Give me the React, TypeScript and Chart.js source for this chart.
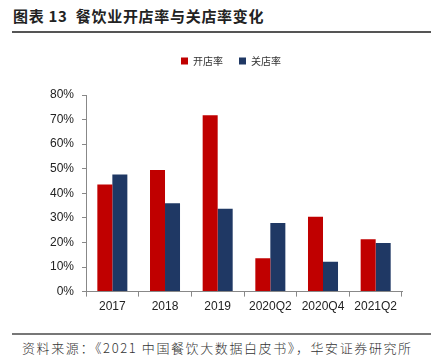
import React, { useEffect, useRef } from "react";
import { Chart, registerables } from "chart.js";

Chart.register(...registerables);

const categories = ["2017", "2018", "2019", "2020Q2", "2020Q4", "2021Q2"];
const openRate = [43.6, 49.5, 71.8, 13.6, 30.5, 21.3];
const closeRate = [47.6, 36.0, 33.7, 27.9, 12.1, 19.8];
const seriesNames = ["开店率", "关店率"];
const yTicks = [0, 10, 20, 30, 40, 50, 60, 70, 80];

const legendExtra = {
  id: "legendExtra",
  beforeInit(chart: any) {
    const orig = chart.legend.fit;
    chart.legend.fit = function () {
      orig.bind(chart.legend)();
      this.height += 19;
    };
  },
  afterLayout(chart: any) {
    if (chart.legend) {
      chart.legend.left += 9;
      chart.legend.right += 9;
    }
  },
};

export default function App() {
  const ref = useRef<HTMLCanvasElement | null>(null);

  useEffect(() => {
    if (!ref.current) return;
    const chart = new Chart(ref.current, {
      type: "bar",
      data: {
        labels: categories,
        datasets: [
          {
            label: seriesNames[0],
            data: openRate,
            backgroundColor: "#C00000",
            categoryPercentage: 0.57,
            barPercentage: 1,
          },
          {
            label: seriesNames[1],
            data: closeRate,
            backgroundColor: "#1F3864",
            categoryPercentage: 0.57,
            barPercentage: 1,
          },
        ],
      },
      plugins: [legendExtra],
      options: {
        responsive: false,
        animation: false,
        layout: { padding: { left: 42, right: 29, top: 0, bottom: 13 } },
        plugins: {
          legend: {
            position: "top",
            labels: {
              boxWidth: 7,
              boxHeight: 7,
              padding: 16,
              color: "#333",
              font: { family: "'Noto Sans CJK SC', sans-serif", size: 10 },
            },
          },
          tooltip: { enabled: false },
        },
        scales: {
          x: {
            grid: {
              offset: true,
              drawOnChartArea: false,
              drawTicks: true,
              tickLength: 5,
              color: "#888",
            },
            border: { color: "#888", width: 1 },
            ticks: {
              color: "#222",
              font: { family: "'Liberation Sans', Arial, sans-serif", size: 12 },
              maxRotation: 0,
              padding: 3,
            },
          },
          y: {
            min: 0,
            max: 80,
            afterBuildTicks: (axis: any) => {
              axis.ticks = yTicks.map((v) => ({ value: v }));
            },
            grid: {
              drawOnChartArea: false,
              drawTicks: true,
              tickLength: 4,
              color: "#888",
            },
            border: { color: "#888", width: 1 },
            ticks: {
              color: "#222",
              font: { family: "'Liberation Sans', Arial, sans-serif", size: 12 },
              padding: 8,
              callback: (v: any) => v + "%",
            },
          },
        },
      },
    });
    return () => chart.destroy();
  }, []);

  return (
    <div
      style={{
        position: "fixed",
        left: 0,
        top: 0,
        width: 431,
        height: 364,
        background: "#fff",
        overflow: "hidden",
      }}
    >
      <div
        style={{
          position: "absolute",
          left: 13,
          top: 5,
          fontFamily: "'Noto Sans CJK SC', sans-serif",
          fontWeight: 700,
          fontSize: 15,
          color: "#222",
          whiteSpace: "nowrap",
          letterSpacing: 0.7,
        }}
      >
        图表 13&nbsp; 餐饮业开店率与关店率变化
      </div>
      <div
        style={{
          position: "absolute",
          left: 12,
          top: 31,
          width: 419,
          height: 1.5,
          background: "#555",
        }}
      />
      <canvas
        ref={ref}
        width={431}
        height={290}
        style={{ position: "absolute", left: 0, top: 40, width: 431, height: 290 }}
      />
      <div
        style={{
          position: "absolute",
          left: 12,
          top: 333,
          width: 419,
          height: 1.5,
          background: "#777",
        }}
      />
      <div
        style={{
          position: "absolute",
          left: 22,
          top: 338,
          fontFamily: "'Noto Sans CJK SC', sans-serif",
          fontWeight: 300,
          fontSize: 13,
          color: "#333",
          whiteSpace: "nowrap",
          letterSpacing: 1.6,
        }}
      >
        资料来源：《2021 中国餐饮大数据白皮书》，华安证券研究所
      </div>
    </div>
  );
}
